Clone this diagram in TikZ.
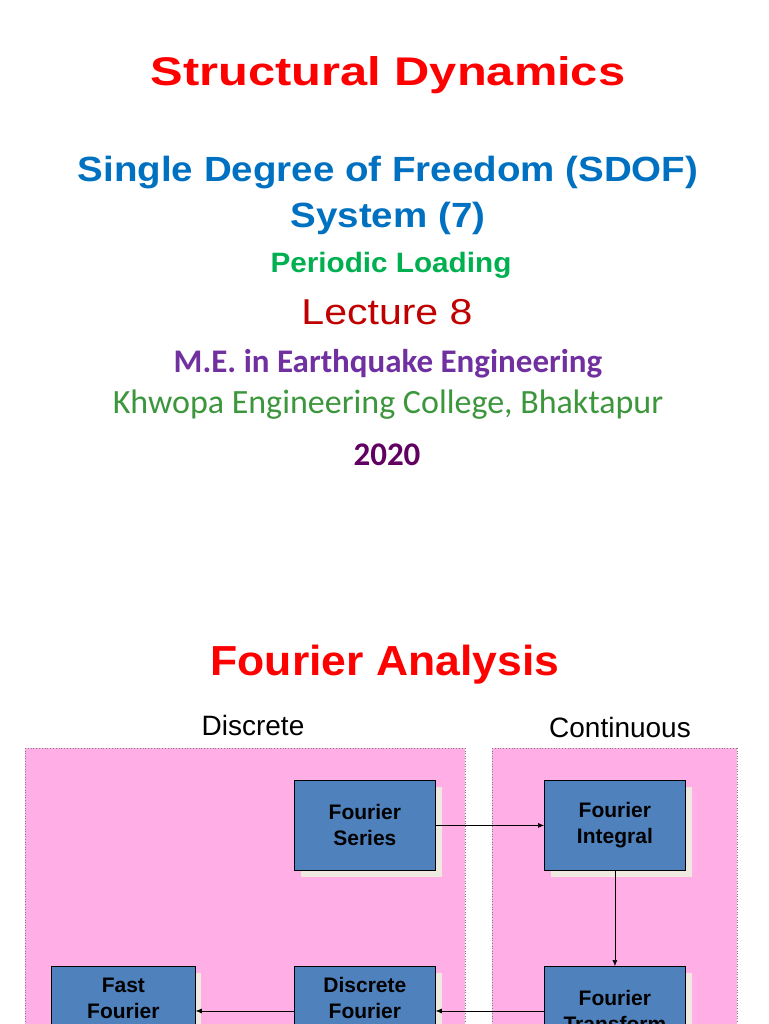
\documentclass[tikz,border=0pt]{standalone}
\usepackage{fontspec}
\setmainfont{Liberation Sans}
\newfontfamily\calib{Carlito}
\usetikzlibrary{arrows.meta}
\definecolor{tred}{RGB}{255,0,0}
\definecolor{tblue}{RGB}{0,112,192}
\definecolor{tgreen}{RGB}{0,176,80}
\definecolor{tdred}{RGB}{192,0,0}
\definecolor{tpurple}{RGB}{112,48,160}
\definecolor{tgreen2}{RGB}{60,150,60}
\definecolor{tdpurple}{RGB}{96,0,96}
\definecolor{pinkbg}{RGB}{255,175,230}
\definecolor{boxblue}{RGB}{79,129,189}
\definecolor{shadowc}{RGB}{238,234,224}
\tikzset{
  title/.style={font=\fontsize{#1}{#1}\selectfont\bfseries, inner sep=0pt},
  fbox/.style={draw=black, line width=0.8pt, fill=boxblue, minimum width=141pt, minimum height=90pt, align=center, font=\fontsize{21}{26}\selectfont\bfseries, inner sep=0pt},
  shad/.style={fill=shadowc},
  conn/.style={-{Latex[length=6pt,width=5pt]}, line width=0.6pt},
}
\begin{document}
\begin{tikzpicture}[x=1pt,y=-1pt]
\useasboundingbox (0,0) rectangle (768,1024);
\clip (0,0) rectangle (768,1024);
\node[title=40, text=tred, xscale=1.22] (t1) at (388,75) {Structural Dynamics};
\node[title=35, text=tblue, xscale=1.1] (t2) at (388,173) {Single Degree of Freedom (SDOF)};
\node[title=35, text=tblue, xscale=1.1] (t3) at (388,218) {System (7)};
\node[title=28, text=tgreen, xscale=1.06] (t4) at (391,265) {Periodic Loading};
\node[font=\fontsize{36}{36}\selectfont, inner sep=0pt, text=tdred, xscale=1.14] (t5) at (387,312) {Lecture 8};
\node[font=\calib\fontsize{33}{33}\selectfont\bfseries, inner sep=0pt, text=tpurple] (t6) at (388,364) {M.E. in Earthquake Engineering};
\node[font=\calib\fontsize{34}{34}\selectfont, inner sep=0pt, text=tgreen2] (t7) at (388,405) {Khwopa Engineering College, Bhaktapur};
\node[font=\calib\fontsize{33}{33}\selectfont\bfseries, inner sep=0pt, text=tdpurple] (t8) at (387,455) {2020};
\node[title=42, text=tred, xscale=1.06] (t9) at (385,665) {Fourier Analysis};
\node[font=\fontsize{28}{28}\selectfont, inner sep=0pt] (l1) at (253,725) {Discrete};
\node[font=\fontsize{28}{28}\selectfont, inner sep=0pt] (l2) at (620,727) {Continuous};
\fill[pinkbg] (25,748) rectangle (465,1030);
\fill[pinkbg] (492,748) rectangle (737,1030);
\draw[gray, dotted, line width=0.8pt] (25,748) -- (465,748) (492,748) -- (737,748);
\draw[gray, dotted, line width=0.6pt] (25,748) -- (25,1030) (465,748) -- (465,1030) (492,748) -- (492,1030) (737,748) -- (737,1030);
% shadows
\fill[shad] (301,787) rectangle (442,877);
\fill[shad] (551,787) rectangle (692,877);
\fill[shad] (301,973) rectangle (442,1063);
\fill[shad] (551,973) rectangle (692,1063);
\fill[shad] (58,973) rectangle (201,1063);
\node[fbox, anchor=north west] (fs) at (294,780) {Fourier\\Series};
\node[fbox, anchor=north west] (fi) at (544,780) {Fourier\\Integral};
\node[fbox, anchor=north west] (df) at (294,966) {Discrete\\Fourier\\Transform};
\node[fbox, anchor=north west] (ft) at (544,966) {Fourier\\Transform};
\node[fbox, anchor=north west, minimum width=144pt] (fft) at (51,966) {Fast\\Fourier\\Transform};
\draw[conn] (fs.east) -- (fi.west);
\draw[conn] (fi.south) -- (ft.north);
\draw[conn] (ft.west |- 0,1011) -- (df.east |- 0,1011);
\draw[conn] (df.west |- 0,1011) -- (fft.east |- 0,1011);
\end{tikzpicture}
\end{document}
